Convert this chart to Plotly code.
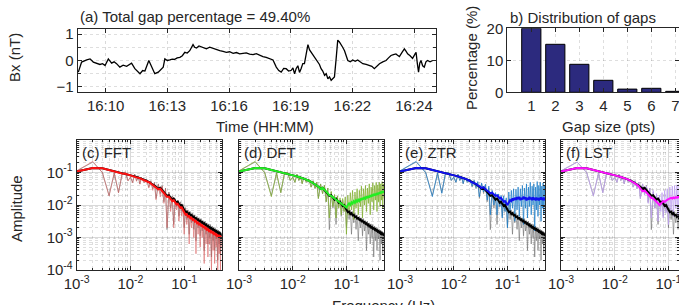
import plotly.graph_objects as go
import numpy as np

W, H = 679, 305
FONT = "Liberation Sans, Arial, sans-serif"
TXT = "#262626"
FS = 15

# ---------------- Panel (a) data: Bx time series ----------------
bx_time_min = [8.67, 8.83, 9.08, 9.24, 9.40, 9.55, 9.72, 9.85, 9.97, 10.13, 10.21, 10.29, 10.41, 10.53, 10.69,
               10.85, 11.02, 11.14, 11.26, 11.42, 11.55, 11.67, 11.80, 11.91, 12.10, 12.23, 12.39, 12.56, 12.68,
               12.80, 12.88, 13.00, 13.12, 13.24, 13.36, 13.48, 13.61, 13.73, 13.85, 13.97, 14.09, 14.25, 14.33,
               14.42, 14.54, 14.66, 14.78, 14.90, 15.06, 15.22, 15.38, 15.55, 15.71, 15.87, 16.03, 16.20, 16.36,
               16.52, 16.68, 16.84, 17.00, 17.17, 17.33, 17.49, 17.65, 17.81, 17.98, 18.14, 18.30, 18.42, 18.54,
               18.66, 18.78, 18.90, 19.03, 19.11, 19.19, 19.27, 19.35, 19.43, 19.51, 19.59, 19.67, 19.76, 19.84,
               19.92, 20.00, 20.08, 20.16, 20.24, 20.32, 20.40, 20.48, 20.56, 20.65, 20.73, 20.81, 20.89, 20.97,
               21.05, 21.13, 21.21, 21.29, 21.37, 21.45, 21.53, 21.62, 21.70, 21.78, 21.90, 22.02, 22.14, 22.26,
               22.38, 22.51, 22.67, 22.83, 22.95, 23.07, 23.20, 23.32, 23.48, 23.64, 23.76, 23.88, 24.00, 24.12,
               24.20, 24.29, 24.41, 24.53, 24.61, 24.69, 24.81, 24.93, 25.02, 25.10, 25.16, 25.22, 25.28, 25.34,
               25.42, 25.50, 25.58, 25.66, 25.78, 25.91]
bx_nT = [-0.44, -0.06, 0.02, 0.06, -0.06, -0.10, -0.15, -0.12, -0.19, 0.06, -0.02, -0.10, -0.05, -0.12, -0.25,
         -0.18, -0.22, -0.15, -0.10, -0.31, -0.40, -0.50, -0.38, -0.40, 0.00, -0.25, -0.50, -0.44, -0.35,
         -0.25, 0.06, 0.00, 0.02, 0.05, 0.04, 0.10, 0.12, 0.18, 0.31, 0.28, 0.37, 0.60, 0.50, 0.47, 0.55,
         0.52, 0.46, 0.44, 0.50, 0.45, 0.40, 0.37, 0.34, 0.31, 0.33, 0.27, 0.30, 0.25, 0.27, 0.29, 0.24,
         0.22, 0.26, 0.19, 0.15, 0.12, 0.08, 0.02, -0.25, -0.38, -0.44, -0.30, -0.31, -0.40, -0.37, -0.28,
         -0.50, -0.30, -0.20, -0.45, -0.30, -0.12, -0.12, 0.20, 0.60, 0.40, 0.31, 0.25, 0.12, 0.05, -0.06,
         -0.15, -0.31, -0.40, -0.56, -0.50, -0.69, -0.62, -0.75, -0.70, -0.62, 0.05, 0.77, 0.70, 0.62, 0.50,
         0.37, 0.20, 0.00, -0.05, 0.02, -0.03, 0.02, -0.05, -0.12, -0.15, -0.20, -0.22, -0.31, -0.20, -0.12,
         -0.05, 0.00, 0.10, 0.19, 0.22, 0.25, 0.20, 0.15, 0.30, 0.44, 0.35, 0.25, 0.18, 0.08, 0.20, 0.31,
         -0.10, -0.44, -0.10, 0.00, -0.20, -0.25, -0.05, 0.00, -0.05, 0.00]

# ---------------- Panel (b) data: gap distribution ----------------
gap_size_pts = [1, 2, 3, 4, 5, 6, 7]
gap_percentage = [20.0, 15.0, 8.75, 3.75, 1.0, 1.25, 0.3]

# ---------------- Spectra (log10 amplitude) ----------------
freq_hz = [0.001, 0.002, 0.003, 0.004, 0.005, 0.006, 0.007, 0.008, 0.009, 0.010,
           0.011, 0.012, 0.013, 0.014, 0.015, 0.016, 0.018, 0.020, 0.022, 0.024,
           0.026, 0.028, 0.030, 0.033, 0.036, 0.039, 0.042, 0.045, 0.048, 0.052,
           0.056, 0.060, 0.064, 0.068, 0.072, 0.076, 0.080, 0.085, 0.090, 0.095,
           0.100, 0.106, 0.112, 0.118, 0.124, 0.130, 0.137, 0.144, 0.151, 0.158,
           0.166, 0.174, 0.182, 0.190, 0.199, 0.208, 0.217, 0.226, 0.236, 0.246,
           0.256, 0.266, 0.277, 0.288, 0.299, 0.310, 0.322, 0.334, 0.346, 0.358,
           0.370, 0.383, 0.396, 0.409, 0.422, 0.435, 0.448, 0.461, 0.474, 0.487, 0.500]

orig_raw_log = [-0.95, -0.68, -1.00, -1.70, -1.02, -1.62, -1.05, -1.00, -1.25, -1.15,
                -1.30, -1.05, -1.25, -1.12, -1.35, -1.15, -1.30, -1.20, -1.45, -1.25,
                -1.50, -1.30, -1.80, -1.35, -1.65, -1.40, -1.90, -1.48, -2.76, -1.60,
                -2.10, -1.72, -2.60, -1.80, -2.05, -1.85, -2.35, -1.90, -2.20, -1.98,
                -2.70, -2.08, -2.45, -2.15, -2.90, -2.20, -2.55, -2.25, -2.75, -2.30,
                -3.10, -2.35, -2.70, -2.40, -2.95, -2.42, -2.80, -2.48, -3.40, -2.50,
                -2.90, -2.55, -3.20, -2.58, -3.00, -2.60, -3.60, -2.65, -3.10, -2.68,
                -3.40, -2.72, -3.05, -2.75, -3.70, -2.78, -3.20, -2.80, -3.50, -2.85, -3.10]
orig_smooth_log = [-0.97, -0.86, -0.87, -0.92, -0.96, -1.00, -1.02, -1.03, -1.06, -1.09,
                   -1.10, -1.12, -1.14, -1.15, -1.17, -1.19, -1.22, -1.25, -1.29, -1.33,
                   -1.36, -1.40, -1.44, -1.50, -1.47, -1.55, -1.60, -1.66, -1.72, -1.70,
                   -1.78, -1.84, -1.80, -1.88, -1.93, -1.90, -1.98, -2.03, -2.00, -2.08,
                   -2.15, -2.22, -2.20, -2.28, -2.25, -2.32, -2.30, -2.37, -2.35, -2.42,
                   -2.40, -2.46, -2.44, -2.50, -2.48, -2.54, -2.52, -2.58, -2.56, -2.62,
                   -2.60, -2.66, -2.64, -2.70, -2.68, -2.73, -2.71, -2.76, -2.74, -2.79,
                   -2.77, -2.82, -2.80, -2.85, -2.83, -2.88, -2.86, -2.90, -2.88, -2.93, -2.95]

fft_raw_log = [-0.95, -0.66, -1.00, -1.72, -1.02, -1.62, -1.04, -0.98, -1.26, -1.14,
               -1.32, -1.06, -1.27, -1.12, -1.36, -1.16, -1.32, -1.22, -1.48, -1.26,
               -1.55, -1.32, -1.84, -1.38, -1.75, -1.42, -1.95, -1.50, -2.70, -1.62,
               -2.20, -1.75, -2.70, -1.85, -2.15, -1.90, -2.50, -1.95, -2.35, -2.05,
               -2.90, -2.12, -2.60, -2.20, -3.20, -2.28, -2.70, -2.32, -3.00, -2.38,
               -3.50, -2.42, -2.90, -2.48, -3.30, -2.52, -3.00, -2.55, -3.80, -2.60,
               -3.20, -2.62, -3.60, -2.68, -3.20, -2.70, -4.00, -2.72, -3.40, -2.78,
               -3.80, -2.80, -3.30, -2.85, -4.00, -2.88, -3.50, -2.90, -4.00, -2.92, -3.30]
fft_smooth_log = [-0.97, -0.86, -0.87, -0.93, -0.97, -1.01, -1.03, -1.04, -1.07, -1.10,
                  -1.11, -1.13, -1.15, -1.16, -1.18, -1.20, -1.23, -1.26, -1.30, -1.34,
                  -1.38, -1.42, -1.46, -1.52, -1.50, -1.57, -1.63, -1.69, -1.75, -1.74,
                  -1.82, -1.88, -1.85, -1.93, -1.98, -1.96, -2.04, -2.09, -2.07, -2.15,
                  -2.22, -2.30, -2.28, -2.36, -2.34, -2.41, -2.39, -2.46, -2.44, -2.51,
                  -2.49, -2.56, -2.54, -2.60, -2.58, -2.64, -2.62, -2.68, -2.66, -2.72,
                  -2.70, -2.76, -2.74, -2.80, -2.78, -2.83, -2.81, -2.86, -2.84, -2.89,
                  -2.87, -2.92, -2.90, -2.95, -2.93, -2.97, -2.95, -2.99, -2.97, -3.00, -2.98]

dft_raw_log = [-0.95, -0.66, -1.00, -1.74, -1.02, -1.62, -1.02, -1.00, -1.24, -1.14,
               -1.30, -1.06, -1.24, -1.12, -1.34, -1.16, -1.30, -1.20, -1.45, -1.26,
               -1.48, -1.30, -1.80, -1.36, -1.65, -1.40, -1.90, -1.48, -2.40, -1.58,
               -2.05, -1.68, -2.40, -1.72, -2.10, -1.78, -2.30, -1.80, -2.20, -1.75,
               -2.90, -1.70, -2.30, -1.62, -2.15, -1.55, -2.45, -1.60, -2.10, -1.50,
               -2.30, -1.55, -2.05, -1.42, -2.40, -1.50, -2.00, -1.40, -2.20, -1.48,
               -1.95, -1.35, -2.30, -1.45, -1.90, -1.32, -2.15, -1.40, -1.85, -1.30,
               -2.20, -1.38, -1.90, -1.30, -2.05, -1.35, -1.85, -1.28, -2.10, -1.35, -1.80]
dft_smooth_log = [-0.97, -0.86, -0.87, -0.92, -0.96, -1.00, -1.02, -1.03, -1.06, -1.09,
                  -1.10, -1.12, -1.14, -1.15, -1.17, -1.19, -1.22, -1.25, -1.29, -1.33,
                  -1.36, -1.40, -1.44, -1.50, -1.47, -1.55, -1.59, -1.64, -1.70, -1.72,
                  -1.76, -1.80, -1.82, -1.86, -1.90, -1.92, -1.96, -1.98, -2.02, -2.04,
                  -2.08, -2.00, -1.95, -2.00, -1.92, -1.96, -1.88, -1.93, -1.86, -1.90,
                  -1.84, -1.88, -1.80, -1.85, -1.78, -1.83, -1.76, -1.80, -1.74, -1.79,
                  -1.72, -1.77, -1.70, -1.75, -1.68, -1.73, -1.66, -1.71, -1.65, -1.70,
                  -1.63, -1.68, -1.62, -1.66, -1.60, -1.65, -1.58, -1.63, -1.57, -1.62, -1.58]

ztr_raw_log = [-0.95, -0.66, -1.00, -1.74, -1.02, -1.64, -1.02, -1.00, -1.24, -1.14,
               -1.30, -1.06, -1.24, -1.12, -1.34, -1.16, -1.30, -1.20, -1.42, -1.24,
               -1.46, -1.28, -1.75, -1.32, -1.60, -1.36, -1.85, -1.42, -2.30, -1.55,
               -2.00, -1.62, -2.30, -1.66, -2.05, -1.70, -2.40, -1.72, -2.20, -1.78,
               -2.70, -1.60, -2.25, -1.55, -2.10, -1.50, -2.50, -1.52, -2.15, -1.45,
               -2.35, -1.50, -2.05, -1.40, -2.60, -1.48, -2.10, -1.35, -2.40, -1.45,
               -2.05, -1.30, -2.30, -1.42, -2.00, -1.35, -2.80, -1.45, -2.15, -1.28,
               -2.35, -1.40, -2.00, -1.30, -2.50, -1.42, -2.10, -1.32, -2.30, -1.40, -2.00]
ztr_smooth_log = [-0.97, -0.86, -0.87, -0.92, -0.96, -1.00, -1.02, -1.03, -1.06, -1.09,
                  -1.10, -1.12, -1.14, -1.15, -1.17, -1.19, -1.22, -1.25, -1.30, -1.33,
                  -1.35, -1.40, -1.42, -1.48, -1.45, -1.52, -1.55, -1.60, -1.64, -1.62,
                  -1.68, -1.72, -1.70, -1.76, -1.80, -1.78, -1.85, -1.90, -1.88, -1.95,
                  -2.00, -1.92, -1.85, -1.88, -1.80, -1.86, -1.78, -1.84, -1.76, -1.82,
                  -1.75, -1.85, -1.78, -1.83, -1.74, -1.82, -1.76, -1.86, -1.78, -1.84,
                  -1.75, -1.82, -1.77, -1.85, -1.76, -1.83, -1.78, -1.86, -1.77, -1.84,
                  -1.79, -1.86, -1.78, -1.83, -1.76, -1.84, -1.78, -1.85, -1.77, -1.82, -1.80]

lst_raw_log = [-0.95, -0.68, -1.00, -1.72, -1.02, -1.62, -1.04, -0.98, -1.24, -1.14,
               -1.30, -1.06, -1.24, -1.12, -1.34, -1.16, -1.30, -1.22, -1.45, -1.26,
               -1.50, -1.30, -1.80, -1.36, -1.70, -1.42, -1.95, -1.48, -2.40, -1.55,
               -2.10, -1.65, -2.50, -1.70, -2.20, -1.62, -2.40, -1.55, -2.25, -1.50,
               -2.60, -1.45, -2.20, -1.42, -2.35, -1.40, -2.10, -1.38, -2.40, -1.36,
               -2.15, -1.35, -2.30]
lst_smooth_log = [-0.97, -0.86, -0.87, -0.92, -0.96, -1.00, -1.02, -1.03, -1.06, -1.09,
                  -1.10, -1.12, -1.14, -1.15, -1.17, -1.19, -1.22, -1.25, -1.30, -1.34,
                  -1.38, -1.42, -1.50, -1.58, -1.55, -1.62, -1.68, -1.74, -1.78, -1.80,
                  -1.84, -1.90, -1.95, -2.00, -1.96, -1.92, -1.88, -1.90, -1.86, -1.84,
                  -1.82, -1.80, -1.78, -1.80, -1.77, -1.79, -1.76, -1.78, -1.75, -1.77,
                  -1.74, -1.76, -1.74]

panels = [
    ("(c) FFT", fft_raw_log, fft_smooth_log, "rgba(215,90,90,0.55)", "#ff1010"),
    ("(d) DFT", dft_raw_log, dft_smooth_log, "rgba(130,175,50,0.75)", "#22ee22"),
    ("(e) ZTR", ztr_raw_log, ztr_smooth_log, "rgba(30,125,200,0.75)", "#1010f0"),
    ("(f) LST", lst_raw_log, lst_smooth_log, "rgba(190,160,240,0.8)", "#ff10ff"),
]

def px_x(x):
    return x / W

def px_y(y):
    return 1 - y / H

fig = go.Figure()

axis_common = dict(showline=True, linecolor=TXT, linewidth=1, mirror="allticks", ticks="inside",
                   tickcolor=TXT, tickfont=dict(family=FONT, size=FS, color=TXT), zeroline=False,
                   automargin=False, ticklabeloverflow="allow")

fig.add_trace(go.Scatter(x=bx_time_min, y=bx_nT, mode="lines", line=dict(color="black", width=1.3),
                         xaxis="x", yaxis="y", showlegend=False))
fig.add_trace(go.Bar(x=gap_size_pts, y=gap_percentage, width=0.8,
                     marker=dict(color="#2c2a7e", line=dict(color="black", width=1)),
                     xaxis="x2", yaxis="y2", showlegend=False))

orig_raw = np.power(10.0, orig_raw_log)
orig_smooth = np.power(10.0, orig_smooth_log)

for i, (name, raw_log, sm_log, c_raw, c_sm) in enumerate(panels):
    xa = "x%d" % (i + 3)
    ya = "y%d" % (i + 3)
    fig.add_trace(go.Scatter(x=freq_hz, y=orig_raw, mode="lines",
                             line=dict(color="rgba(90,90,90,0.5)", width=1),
                             xaxis=xa, yaxis=ya, showlegend=False))
    n = len(raw_log)
    fig.add_trace(go.Scatter(x=freq_hz[:n], y=np.power(10.0, raw_log), mode="lines",
                             line=dict(color=c_raw, width=1), xaxis=xa, yaxis=ya, showlegend=False))
    fig.add_trace(go.Scatter(x=freq_hz, y=orig_smooth, mode="lines",
                             line=dict(color="black", width=2), xaxis=xa, yaxis=ya, showlegend=False))
    n2 = len(sm_log)
    fig.add_trace(go.Scatter(x=freq_hz[:n2], y=np.power(10.0, sm_log), mode="lines",
                             line=dict(color=c_sm, width=2), xaxis=xa, yaxis=ya, showlegend=False))

grid_major = "rgba(0,0,0,0.15)"
grid_minor = "rgba(0,0,0,0.13)"

layout = dict(width=W, height=H, margin=dict(l=0, r=0, t=0, b=0, autoexpand=False),
              paper_bgcolor="white", plot_bgcolor="white", font=dict(family=FONT, size=FS, color=TXT))

layout["xaxis"] = dict(axis_common, domain=[px_x(77.5), px_x(436)], range=[8.63, 26.07],
                       tickvals=[10, 13, 16, 19, 22, 25],
                       ticktext=["16:10", "16:13", "16:16", "16:19", "16:22", "16:24"],
                       showgrid=True, gridcolor=grid_major, griddash="dot", ticklen=4, anchor="y")
layout["yaxis"] = dict(axis_common, domain=[px_y(91.7), px_y(29)], range=[-1.18, 1.19],
                       tickvals=[-1, 0, 1], ticklen=4, showgrid=False,
                       minor=dict(tickvals=[-1, -0.5, 0, 0.5, 1], showgrid=True, gridcolor=grid_minor,
                                  griddash="dot", ticks="inside", ticklen=3, tickcolor=TXT),
                       anchor="x")
layout["xaxis2"] = dict(axis_common, domain=[px_x(507.3), 1.0], range=[0, (679 - 507.3) / 24.0],
                        tickvals=gap_size_pts, showgrid=True, gridcolor=grid_minor, griddash="dot",
                        ticklen=4, anchor="y2")
layout["yaxis2"] = dict(axis_common, domain=[px_y(92.3), px_y(28.3)], range=[0, 20],
                        tickvals=[0, 10, 20], showgrid=True, gridcolor=grid_minor, griddash="dot",
                        ticklen=4, anchor="x2")

minor_vals = []
for dec in [1e-4, 1e-3, 1e-2, 1e-1]:
    for k in range(2, 10):
        minor_vals.append(k * dec)

spec_left = [76.7, 239.0, 400.0, 561.0]
spec_width = 145.0
dec_px = spec_width / (np.log10(0.5) + 3)
for i in range(4):
    left = spec_left[i]
    right = min(left + spec_width, W)
    xmax_log = -3 + (right - left) / dec_px
    layout["xaxis%d" % (i + 3)] = dict(
        axis_common, type="log", domain=[px_x(left), px_x(right)], range=[-3, xmax_log],
        tickvals=[1e-3, 1e-2, 1e-1], ticktext=["10<sup>-3</sup>", "10<sup>-2</sup>", "10<sup>-1</sup>"],
        showgrid=True, gridcolor=grid_major, ticklen=4,
        minor=dict(tickvals=minor_vals, showgrid=True, gridcolor=grid_minor, griddash="dot",
                   ticks="inside", ticklen=2, tickcolor=TXT),
        anchor="y%d" % (i + 3))
    layout["yaxis%d" % (i + 3)] = dict(
        axis_common, type="log", domain=[px_y(270), px_y(140)], range=[-4, 0],
        tickvals=[1e-4, 1e-3, 1e-2, 1e-1],
        ticktext=["10<sup>-4</sup>", "10<sup>-3</sup>", "10<sup>-2</sup>", "10<sup>-1</sup>"],
        showticklabels=(i == 0), showgrid=True, gridcolor=grid_major, ticklen=4,
        minor=dict(tickvals=minor_vals, showgrid=True, gridcolor=grid_minor, griddash="dot",
                   ticks="inside", ticklen=2, tickcolor=TXT),
        anchor="x%d" % (i + 3))

fig.update_layout(**layout)

def ann(text, x, y, xanchor="left", yanchor="middle", angle=0, size=FS):
    fig.add_annotation(text=text, x=px_x(x), y=px_y(y), xref="paper", yref="paper",
                       xanchor=xanchor, yanchor=yanchor, textangle=angle, showarrow=False,
                       borderpad=0, font=dict(family=FONT, size=size, color=TXT))

ann("(a) Total gap percentage = 49.40%", 79, 16.5)
ann("b) Distribution of gaps", 509, 17.5)
ann("Bx (nT)", 15, 58, xanchor="center", angle=-90)
ann("Time (HH:MM)", 265, 127, xanchor="center")
ann("Percentage (%)", 472, 58, xanchor="center", angle=-90)
ann("Gap size (pts)", 608, 127, xanchor="center")
ann("Amplitude", 16, 209, xanchor="center", angle=-90)
ann("Frequency (Hz)", 383, 305, xanchor="center")
for i, (name, *_rest) in enumerate(panels):
    ann(name, spec_left[i] + 4, 152.5)

fig.write_html("out.html")
